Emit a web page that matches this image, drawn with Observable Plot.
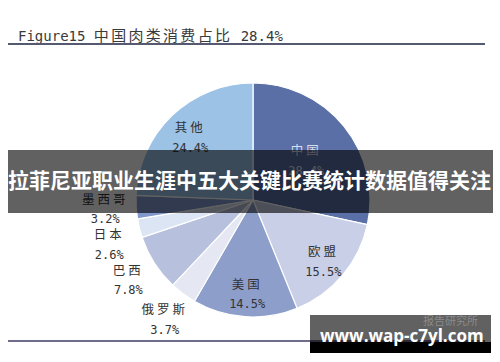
<!DOCTYPE html>
<html>
<head>
<meta charset="utf-8">
<script src="https://cdn.jsdelivr.net/npm/d3@7"></script>
<script src="https://cdn.jsdelivr.net/npm/@observablehq/plot@0.6"></script>
<style>
  html, body { margin: 0; padding: 0; background: #fff; }
  #wrap { position: relative; width: 500px; height: 362px; overflow: hidden; background: #fff; }
  #chart { position: absolute; left: 0; top: 0; }
  #chart svg text.nm { letter-spacing: 3px; }
  .title { position: absolute; left: 18px; top: 24px; line-height: 17px; color: #3a3a3a; white-space: nowrap; }
  .title .lat { font: 14px "DejaVu Sans Mono", monospace; }
  .title .cjk { font: 15px "Noto Sans CJK SC", sans-serif; letter-spacing: 2.3px; }
  .rule-top { position: absolute; left: 8px; top: 43px; width: 477px; height: 2px; background: #565a70; }
  .rule-bottom { position: absolute; left: 8px; top: 340px; width: 477px; height: 2px; background: #6e6d8c; }
  .band { position: absolute; left: 8px; top: 150px; width: 485px; height: 63px; background: rgba(0,0,0,0.62); }
  .band-text { position: absolute; left: 8px; top: 167px; font: bold 21px/24px "Noto Sans CJK SC", sans-serif; color: #fff; white-space: nowrap; }
  .wm-top { position: absolute; left: 310px; top: 315px; width: 181px; height: 27px; background: rgba(0,0,0,0.62); }
  .wm-bottom { position: absolute; left: 310px; top: 342px; width: 181px; height: 11px; background: #000; }
  .wm-faint { position: absolute; left: 423px; top: 314px; font: 11px/13px "Noto Sans CJK SC", sans-serif; color: #8a8a8a; white-space: nowrap; }
  .wm-text { position: absolute; left: 320px; top: 326px; font: bold 17px/20px "Open Sans", sans-serif; color: #fff; white-space: nowrap; }
</style>
</head>
<body>
<div id="wrap">
  <div id="chart"></div>
  <div class="title" id="title"></div>
  <div class="rule-top"></div>
  <div class="rule-bottom"></div>
  <div class="band"></div>
  <div class="band-text" id="bandText"></div>
  <div class="wm-top"></div>
  <div class="wm-bottom"></div>
  <div class="wm-faint">报告研究所</div>
  <div class="wm-text">www.wap-c7yl.com</div>
</div>
<script>
// ---- data ----
const titleText = "Figure15 中国肉类消费占比 28.4%";
const overlayText = "拉菲尼亚职业生涯中五大关键比赛统计数据值得关注";
const categories = ["中国", "欧盟", "美国", "俄罗斯", "巴西", "日本", "墨西哥", "其他"];
const shares = [28.4, 15.5, 14.5, 3.7, 7.8, 2.6, 3.2, 24.4];
const shareLabels = ["28.4%", "15.5%", "14.5%", "3.7%", "7.8%", "2.6%", "3.2%", "24.4%"];
const sliceColors = ["#5b6fa7", "#c8cfe7", "#8d9ecb", "#e5e8f3", "#b7c1de", "#dbe5f3", "#8098cc", "#9cc2e6"];

// title: latin parts monospace, CJK parts spaced
const titleEl = document.getElementById("title");
titleText.split(/([\u4e00-\u9fff]+)/).forEach(part => {
  if (!part) return;
  const s = document.createElement("span");
  s.className = /[\u4e00-\u9fff]/.test(part) ? "cjk" : "lat";
  s.textContent = part;
  titleEl.appendChild(s);
});
document.getElementById("bandText").textContent = overlayText;

const rows = categories.map((c, i) => ({category: c, share: shares[i], label: shareLabels[i], color: sliceColors[i]}));
const arcs = d3.pie().sort(null).value(d => d.share)(rows);

// label layout: big slices inside, small slices outside with a simple vertical de-overlap
const labels = arcs.map(a => {
  const mid = (a.startAngle + a.endAngle) / 2;
  const big = a.data.share >= 10;
  const rr = !big ? 1.27 : (a.data.share > 25 ? 0.58 : 0.78);
  return {
    x: rr * Math.sin(mid),
    y: rr * Math.cos(mid),
    inside: big,
    name: a.data.category,
    label: a.data.label,
    light: a.data.category === "中国"
  };
});
const outside = labels.filter(d => !d.inside).sort((a, b) => b.y - a.y);
for (let i = 1; i < outside.length; i++) {
  outside[i].y = Math.min(outside[i].y, outside[i - 1].y - 0.3);
}

// custom pie mark drawn through the plot's x/y scales
function pieMark(index, scales) {
  const cx = scales.x(0), cy = scales.y(0);
  const r = scales.x(1) - scales.x(0);
  const arcGen = d3.arc().innerRadius(0).outerRadius(r);
  const g = d3.create("svg:g").attr("transform", `translate(${cx},${cy})`);
  g.selectAll("path").data(arcs).join("path")
    .attr("d", arcGen)
    .attr("fill", d => d.data.color)
    .attr("stroke", "#ffffff")
    .attr("stroke-width", 1.2)
    .attr("stroke-linejoin", "round");
  return g.node();
}

const chart = Plot.plot({
  width: 500,
  height: 362,
  margin: 0,
  x: {domain: [-1, 1], range: [136, 370], axis: null},
  y: {domain: [-1, 1], range: [317, 83], axis: null},
  style: {background: "transparent", overflow: "visible"},
  marks: [
    pieMark,
    Plot.text(labels.filter(d => d.inside), {x: "x", y: "y", text: "name", dy: -7, fontSize: 12.5,
      className: "nm", fontFamily: "Noto Sans CJK SC, sans-serif",
      fill: d => d.light ? "#d9deec" : "#333333"}),
    Plot.text(labels.filter(d => d.inside), {x: "x", y: "y", text: "label", dy: 13, fontSize: 12,
      fontFamily: "DejaVu Sans Mono, monospace",
      fill: d => d.light ? "#d9deec" : "#333333"}),
    Plot.text(labels.filter(d => !d.inside), {x: "x", y: "y", text: "name", dy: -10, fontSize: 12.5,
      className: "nm", fontFamily: "Noto Sans CJK SC, sans-serif", fill: "#333333"}),
    Plot.text(labels.filter(d => !d.inside), {x: "x", y: "y", text: "label", dy: 10, fontSize: 12,
      fontFamily: "DejaVu Sans Mono, monospace", fill: "#333333"})
  ]
});
chart.querySelectorAll("g").forEach(g => { if (g.getAttribute("class") === "nm") g.querySelectorAll("text").forEach(t => t.setAttribute("class", "nm")); });
document.getElementById("chart").appendChild(chart);
</script>
</body>
</html>
